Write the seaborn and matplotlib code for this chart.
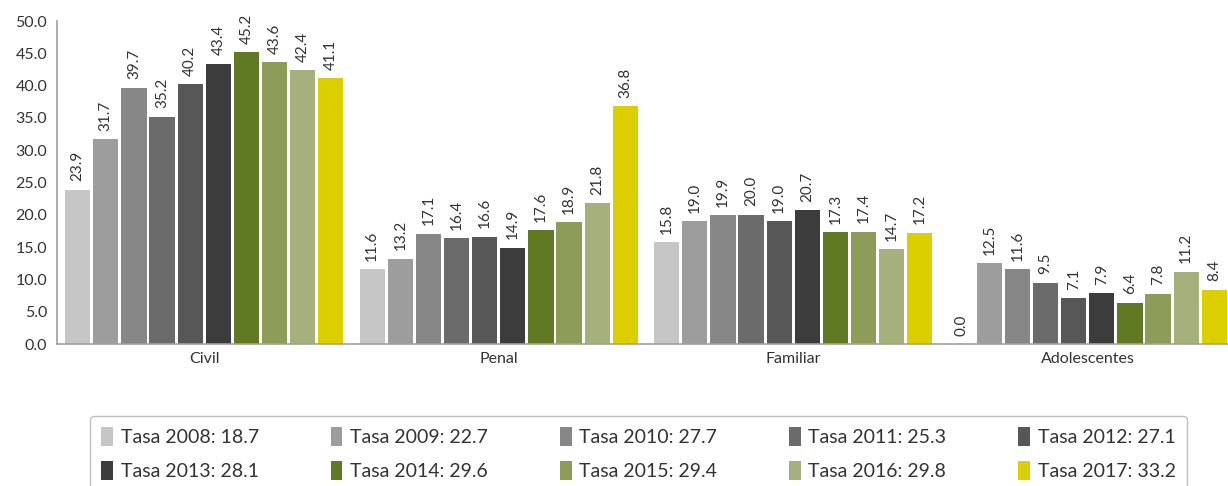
import pandas as pd
import numpy as np
import matplotlib.pyplot as plt
import seaborn as sns
from matplotlib.patches import Patch

# datos
categorias = ["Civil", "Penal", "Familiar", "Adolescentes"]
anios = ["2008", "2009", "2010", "2011", "2012", "2013", "2014", "2015", "2016", "2017"]
tasas_totales = [18.7, 22.7, 27.7, 25.3, 27.1, 28.1, 29.6, 29.4, 29.8, 33.2]

civil = [23.9, 31.7, 39.7, 35.2, 40.2, 43.4, 45.2, 43.6, 42.4, 41.1]
penal = [11.6, 13.2, 17.1, 16.4, 16.6, 14.9, 17.6, 18.9, 21.8, 36.8]
familiar = [15.8, 19.0, 19.9, 20.0, 19.0, 20.7, 17.3, 17.4, 14.7, 17.2]
adolescentes = [0.0, 12.5, 11.6, 9.5, 7.1, 7.9, 6.4, 7.8, 11.2, 8.4]

colores = ["#c6c6c6", "#9d9d9d", "#878787", "#6b6b6b", "#575757",
           "#3c3c3c", "#5f7a23", "#8e9c5a", "#a6b07c", "#dccf00"]

filas = []
for cat, valores in zip(categorias, [civil, penal, familiar, adolescentes]):
    for a, v in zip(anios, valores):
        filas.append({"materia": cat, "anio": a, "tasa": v})
df = pd.DataFrame(filas)

sns.set_style("white")
plt.rcParams["font.family"] = ["Lato", "DejaVu Sans"]
texto = "#333333"
eje = "#a0a0a0"

fig = plt.figure(figsize=(12.28, 4.86), dpi=100)
ax = fig.add_axes([57 / 1228, 142 / 486, 1171 / 1228, 323 / 486])

sns.barplot(data=df, x="materia", y="tasa", hue="anio", order=categorias,
            hue_order=anios, palette=colores, saturation=1, width=0.955, gap=0.1,
            legend=False, ax=ax, edgecolor="none")

# etiquetas de valor
for cont in ax.containers:
    for barra in cont:
        h = barra.get_height()
        ax.text(barra.get_x() + barra.get_width() / 2, h + 1.3, f"{h:.1f}",
                rotation=90, ha="center", va="bottom", fontsize=11, color=texto)

ax.set_ylim(0, 50)
ax.set_yticks(np.arange(0, 50.1, 5))
ax.set_yticklabels([f"{v:.1f}" for v in np.arange(0, 50.1, 5)], fontsize=11.5, color=texto)
ax.set_xlim(-0.5, -0.5 + 1171 / 294.5)
ax.set_xticks(range(len(categorias)))
ax.set_xticklabels(categorias, fontsize=11.5, color=texto)
ax.tick_params(axis="x", length=0, pad=6)
ax.set_xticks([-0.5, 0.5, 1.5, 2.5], minor=True)
ax.tick_params(axis="x", which="minor", length=5, color=eje, width=1.2, direction="out")
ax.tick_params(axis="y", length=4, color=eje, width=1.2, pad=3)
ax.set_xlabel("")
ax.set_ylabel("")
for lado in ["top", "right"]:
    ax.spines[lado].set_visible(False)
for lado in ["left", "bottom"]:
    ax.spines[lado].set_color(eje)
    ax.spines[lado].set_linewidth(1.2)

# leyenda (orden por filas)
etiquetas = [f"Tasa {a}: {t:.1f}" for a, t in zip(anios, tasas_totales)]
orden = [0, 5, 1, 6, 2, 7, 3, 8, 4, 9]
manijas = [Patch(facecolor=colores[i], edgecolor="none") for i in orden]
etiquetas = [etiquetas[i] for i in orden]
leg = fig.legend(manijas, etiquetas, ncol=5, loc="upper left",
                 bbox_to_anchor=(80 / 1228, -8 / 486, 1117 / 1228, 88 / 486),
                 mode="expand", fontsize=14, frameon=True, fancybox=True,
                 handlelength=0.6, handleheight=1.1, handletextpad=0.4,
                 labelspacing=0.75, borderpad=0.6, columnspacing=1.0,
                 labelcolor=texto)
leg.get_frame().set_edgecolor("#b0b0b0")
leg.get_frame().set_linewidth(1.0)

fig.savefig("out.png", dpi=100)
